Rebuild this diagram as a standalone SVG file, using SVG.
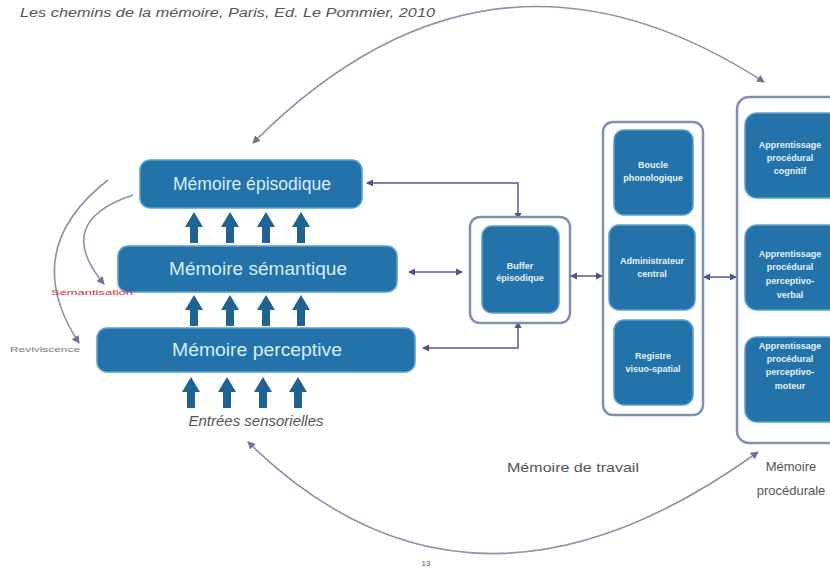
<svg xmlns="http://www.w3.org/2000/svg" width="830" height="581" viewBox="0 0 830 581">
<style>
.bg{fill:#ffffff}
.node{fill:#2372aa;stroke:#5b9fcf;stroke-width:1.5}
.frame{fill:#ffffff;stroke:#8090ae;stroke-width:2.5}
.big{font-family:"Liberation Sans",Arial,sans-serif;font-size:17.5px;fill:#d9eefa;text-anchor:middle}
.small{font-family:"Liberation Sans",Arial,sans-serif;font-size:9px;font-weight:bold;fill:#e4f2fb;text-anchor:middle}
.lbl{font-family:"Liberation Sans",Arial,sans-serif;fill:#555555;text-anchor:middle}
.title{font-family:"Liberation Sans",Arial,sans-serif;fill:#555555;text-anchor:start;font-style:italic;font-size:12.5px}
.arc{fill:none;stroke:#8a94aa;stroke-width:1.6}
.conn{fill:none;stroke:#7c82b4;stroke-width:2}
.up{fill:#1f6393}
</style>
<defs>
<marker id="ah" markerUnits="userSpaceOnUse" markerWidth="9" markerHeight="8" refX="7" refY="4" orient="auto-start-reverse">
<path d="M0,0 L8,4 L0,8 z" fill="#6d7792"/>
</marker>
<marker id="dh" markerUnits="userSpaceOnUse" markerWidth="8" markerHeight="8" refX="6" refY="4" orient="auto-start-reverse">
<path d="M0,0.5 L7,4 L0,7.5 z" fill="#4d5588"/>
</marker>
<path id="uparrow" d="M0,0 L9,15 L4,15 L4,31 L-4,31 L-4,15 L-9,15 Z"/>
</defs>
<rect class="bg" x="0" y="0" width="830" height="581"/>

<text class="title" x="20" y="17" textLength="415" lengthAdjust="spacingAndGlyphs">Les chemins de la mémoire, Paris, Ed. Le Pommier, 2010</text>

<g id="connectors">
<path class="arc" d="M253,143 Q490,-95 764,82" marker-start="url(#ah)" marker-end="url(#ah)"/>
<path class="arc" d="M248,442 Q470,660 758,452" marker-start="url(#ah)" marker-end="url(#ah)"/>
<path class="arc" d="M108,180 Q18,250 79,343" marker-end="url(#ah)"/>
<path class="arc" d="M133,195 Q52,222 104,284" marker-end="url(#ah)"/>
<path class="conn" d="M518,219 L518,183 L367,183" marker-start="url(#dh)" marker-end="url(#dh)"/>
<path class="conn" d="M409,272 L462,272" marker-start="url(#dh)" marker-end="url(#dh)"/>
<path class="conn" d="M518,322 L518,348 L423,348" marker-start="url(#dh)" marker-end="url(#dh)"/>
<path class="conn" d="M571,276 L602,276" marker-start="url(#dh)" marker-end="url(#dh)"/>
<path class="conn" d="M704,277 L736,277" marker-start="url(#dh)" marker-end="url(#dh)"/>
</g>

<g id="up-arrows">
<use href="#uparrow" class="up" x="194" y="212"/>
<use href="#uparrow" class="up" x="230" y="212"/>
<use href="#uparrow" class="up" x="266" y="212"/>
<use href="#uparrow" class="up" x="301" y="212"/>
<use href="#uparrow" class="up" x="194" y="295"/>
<use href="#uparrow" class="up" x="230" y="295"/>
<use href="#uparrow" class="up" x="266" y="295"/>
<use href="#uparrow" class="up" x="301" y="295"/>
<use href="#uparrow" class="up" x="191" y="377"/>
<use href="#uparrow" class="up" x="227" y="377"/>
<use href="#uparrow" class="up" x="263" y="377"/>
<use href="#uparrow" class="up" x="298" y="377"/>
</g>

<g id="memoire-episodique">
<rect class="node" x="140" y="160" width="222" height="48" rx="10"/>
<text class="big" x="252" y="190" textLength="158" lengthAdjust="spacingAndGlyphs">Mémoire épisodique</text>
</g>
<g id="memoire-semantique">
<rect class="node" x="118" y="246" width="279" height="46" rx="10"/>
<text class="big" x="258" y="275" textLength="178" lengthAdjust="spacingAndGlyphs">Mémoire sémantique</text>
</g>
<g id="memoire-perceptive">
<rect class="node" x="97" y="328" width="318" height="44" rx="10"/>
<text class="big" x="257" y="356" textLength="170" lengthAdjust="spacingAndGlyphs">Mémoire perceptive</text>
</g>

<g id="entrees">
<text class="lbl" x="256" y="426" font-size="14" font-style="italic" textLength="135" lengthAdjust="spacingAndGlyphs">Entrées sensorielles</text>
</g>
<g id="semantisation">
<text x="51" y="295" font-family="Liberation Sans,Arial,sans-serif" font-size="8" fill="#d3323f" textLength="82" lengthAdjust="spacingAndGlyphs">Sémantisation</text>
</g>
<g id="reviviscence">
<text x="10" y="352" font-family="Liberation Sans,Arial,sans-serif" font-size="7.5" fill="#7a7a7a" textLength="70" lengthAdjust="spacingAndGlyphs">Reviviscence</text>
</g>

<g id="buffer-episodique">
<rect class="frame" x="470" y="217" width="100" height="106" rx="10"/>
<rect class="node" x="482" y="226" width="77" height="87" rx="10"/>
<text class="small" x="520" y="269">Buffer</text>
<text class="small" x="520" y="281">épisodique</text>
</g>

<g id="memoire-de-travail">
<rect class="frame" x="603" y="122" width="100" height="293" rx="10"/>
<g id="boucle-phonologique">
<rect class="node" x="614" y="130" width="79" height="85" rx="10"/>
<text class="small" x="653" y="168">Boucle</text>
<text class="small" x="653" y="181">phonologique</text>
</g>
<g id="administrateur-central">
<rect class="node" x="609" y="225" width="86" height="85" rx="10"/>
<text class="small" x="652" y="264">Administrateur</text>
<text class="small" x="652" y="277">central</text>
</g>
<g id="registre-visuo-spatial">
<rect class="node" x="614" y="320" width="79" height="85" rx="10"/>
<text class="small" x="653" y="359">Registre</text>
<text class="small" x="653" y="372">visuo-spatial</text>
</g>
</g>

<g id="memoire-procedurale">
<rect class="frame" x="737" y="97" width="115" height="346" rx="12"/>
<g id="proc-cognitif">
<rect class="node" x="745" y="113" width="100" height="85" rx="12"/>
<text class="small" x="790" y="148">Apprentissage</text>
<text class="small" x="790" y="161">procédural</text>
<text class="small" x="790" y="174">cognitif</text>
</g>
<g id="proc-verbal">
<rect class="node" x="745" y="225" width="100" height="85" rx="12"/>
<text class="small" x="790" y="257">Apprentissage</text>
<text class="small" x="790" y="270">procédural</text>
<text class="small" x="790" y="284">perceptivo-</text>
<text class="small" x="790" y="298">verbal</text>
</g>
<g id="proc-moteur">
<rect class="node" x="745" y="337" width="100" height="85" rx="12"/>
<text class="small" x="790" y="349">Apprentissage</text>
<text class="small" x="790" y="362">procédural</text>
<text class="small" x="790" y="375">perceptivo-</text>
<text class="small" x="790" y="389">moteur</text>
</g>
</g>

<text class="lbl" x="573" y="472" font-size="13" textLength="132" lengthAdjust="spacingAndGlyphs">Mémoire de travail</text>
<text class="lbl" x="791" y="471" font-size="13">Mémoire</text>
<text class="lbl" x="791" y="495" font-size="13">procédurale</text>
<text class="lbl" x="426" y="566" font-size="8">13</text>
</svg>
